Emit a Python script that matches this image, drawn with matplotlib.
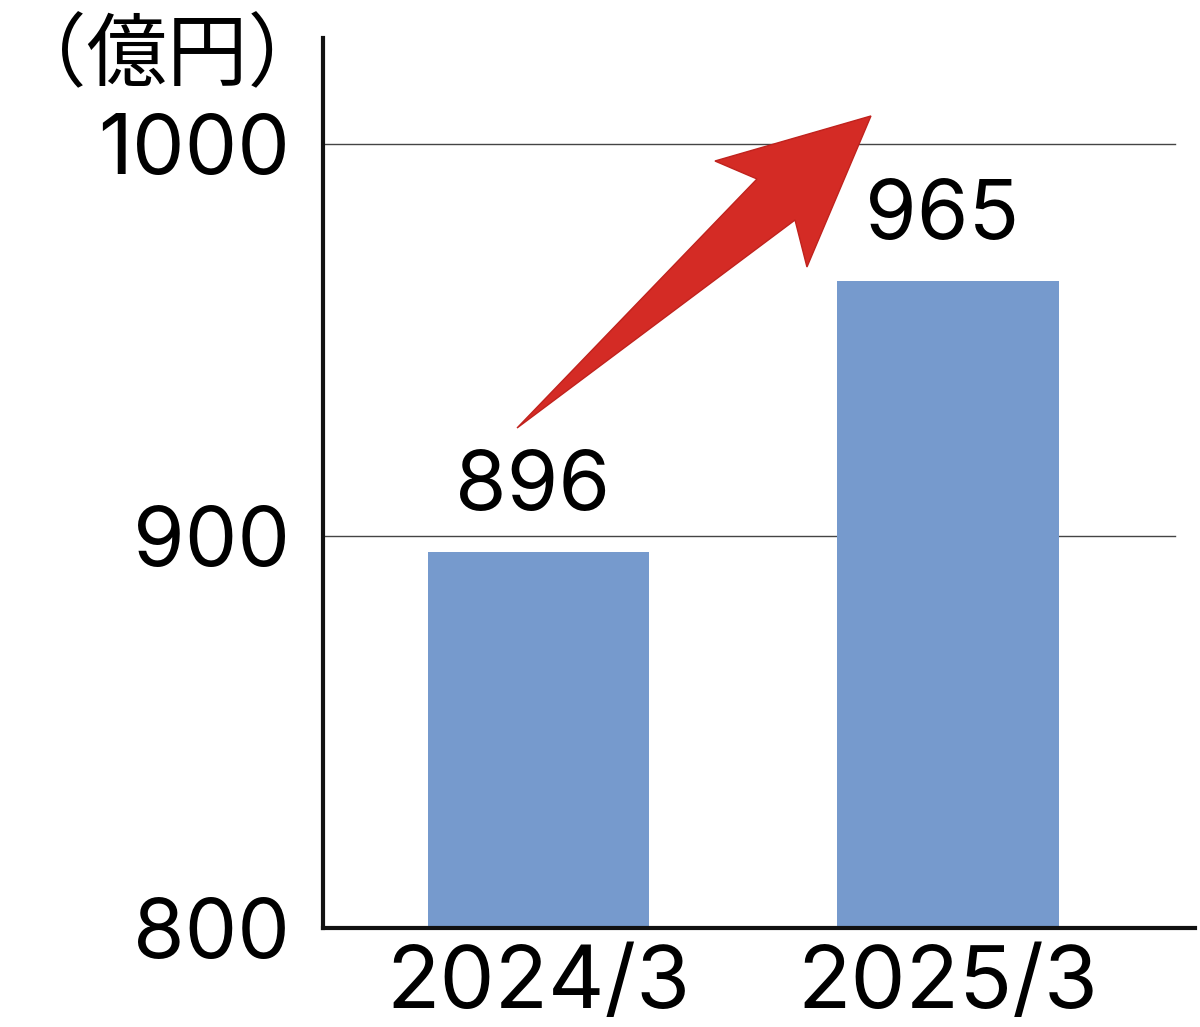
import matplotlib.pyplot as plt
from matplotlib.patches import Polygon

categories = ["2024/3", "2025/3"]
sales = [896, 965]
y_ticks = [800, 900, 1000]
unit_label = "（億円）"

plt.rcParams['font.family'] = ['Inter', 'DejaVu Sans']

fig = plt.figure(figsize=(12, 10.27), dpi=100)
ax = fig.add_axes([0.2692, 0.0964, 0.7266, 0.8666])

x = range(len(categories))
bars = ax.bar(x, sales, width=0.541, color="#769acd", zorder=2)

ax.set_xlim(-0.526, 1.603)
ax.set_ylim(800, 1027)

for t in y_ticks[1:]:
    ax.axhline(t, xmax=0.977, color="#444444", linewidth=1.0, zorder=1)

ax.set_yticks(y_ticks)
ax.set_yticklabels([str(t) for t in y_ticks], fontsize=60)
ax.set_xticks(list(x))
ax.set_xticklabels(categories, fontsize=63)
ax.tick_params(axis="y", length=0, pad=24)
ax.tick_params(axis="x", length=0, pad=12)

for side in ["top", "right"]:
    ax.spines[side].set_visible(False)
for side in ["left", "bottom"]:
    ax.spines[side].set_linewidth(3)
    ax.spines[side].set_color("#111111")

for b, v in zip(bars, sales):
    ax.annotate(str(v), (b.get_x() + b.get_width() / 2, v), xytext=(-4, 18),
                textcoords="offset points", ha="center", va="bottom", fontsize=60)

fig.text(0.139, 0.944, unit_label, fontsize=58, ha="center", va="center",
         family=['Noto Sans CJK JP', 'DejaVu Sans'])

# red rising arrow (axes fraction)
arrow = Polygon([(0.2225, 0.5618), (0.4977, 0.8416), (0.4495, 0.8618),
                 (0.6284, 0.9124), (0.5550, 0.7427), (0.5413, 0.7955)],
                closed=True, transform=ax.transAxes, facecolor="#d42b25",
                edgecolor="#c0221d", linewidth=1.0, zorder=3, clip_on=False)
ax.add_patch(arrow)

fig.savefig("out.png", dpi=100, facecolor="white")
